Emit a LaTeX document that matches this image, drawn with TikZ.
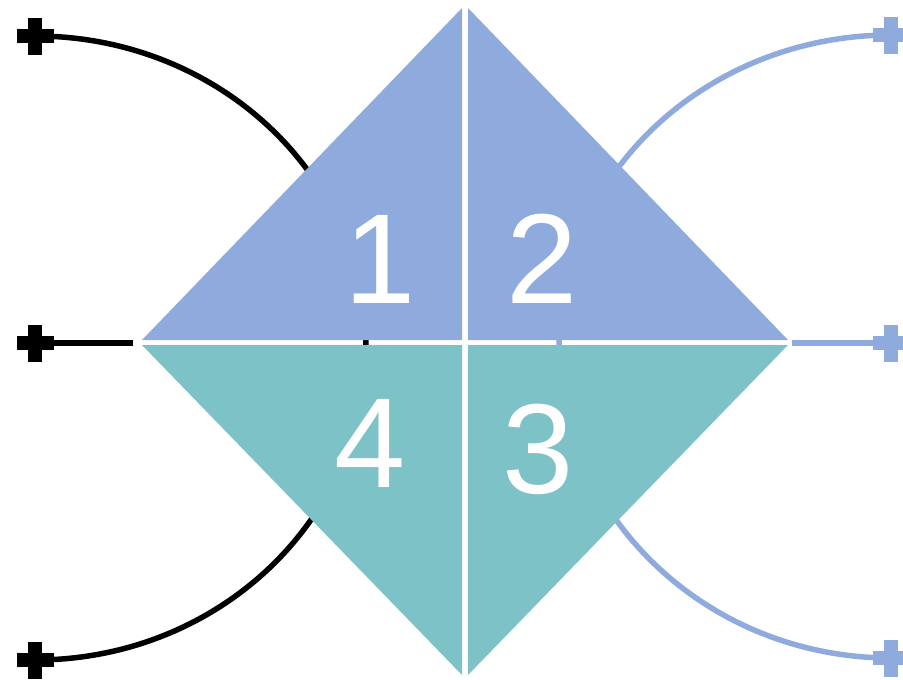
\documentclass[tikz,border=0pt]{standalone}
\usepackage{fontspec}
\setmainfont{Liberation Sans}
\usetikzlibrary{calc}
\definecolor{wireblue}{HTML}{8FAADC}\definecolor{lobeteal}{HTML}{7CC2C7}
\tikzset{wire/.style={line width=5.5pt,draw=black},bwire/.style={wire,draw=wireblue},digit/.style={text=white,font=\fontsize{128}{128}\selectfont,anchor=base,inner sep=0pt}}
\begin{document}
\begin{tikzpicture}[x=1pt,y=-1pt]
\useasboundingbox (0,0) rectangle (903,680);\clip (0,0) rectangle (903,680);
% terminals and hidden wire ends
\coordinate (tl) at (35,36);\coordinate (ml) at (35,343);\coordinate (bl) at (35,660);
\coordinate (tr) at (891,35);\coordinate (mr) at (891,343);\coordinate (br) at (891,658);
\coordinate (cl) at (366,346);\coordinate (cr) at (559,344);
\coordinate (ml2) at (133,343);\coordinate (mr2) at (792,343);
\draw[wire](tl) .. controls +(183,0) and +(0,-171) .. (cl);
\draw[wire](bl) .. controls +(183,0) and +(0,174) .. (cl);
\draw[wire](ml)--(ml2);
\draw[bwire](tr) .. controls +(-183,0) and +(0,-171) .. (cr);
\draw[bwire](br) .. controls +(-183,0) and +(0,173) .. (cr);
\draw[bwire](mr2)--(mr);
\foreach \p in {tl,ml,bl}{\fill (\p) ++(-18.5,-7) rectangle ++(37,14);\fill (\p) ++(-7,-18.5) rectangle ++(14,37);}
\foreach \p in {tr,mr,br}{\fill[wireblue] (\p) ++(-18.5,-7) rectangle ++(37,14);\fill[wireblue] (\p) ++(-7,-18.5) rectangle ++(14,37);}
% diamond quarters
\fill[wireblue] (142,340)--(462,8)--(462,340)--cycle;
\fill[wireblue] (468,8)--(788,340)--(468,340)--cycle;
\fill[lobeteal] (142,345)--(462,345)--(462,675)--cycle;
\fill[lobeteal] (468,345)--(788,345)--(468,675)--cycle;
\node[digit] (q1) at (380,303) {1};\node[digit] (q2) at (542,303) {2};
\node[digit] (q4) at (370,487) {4};\node[digit] (q3) at (538,493) {3};
\end{tikzpicture}
\end{document}
